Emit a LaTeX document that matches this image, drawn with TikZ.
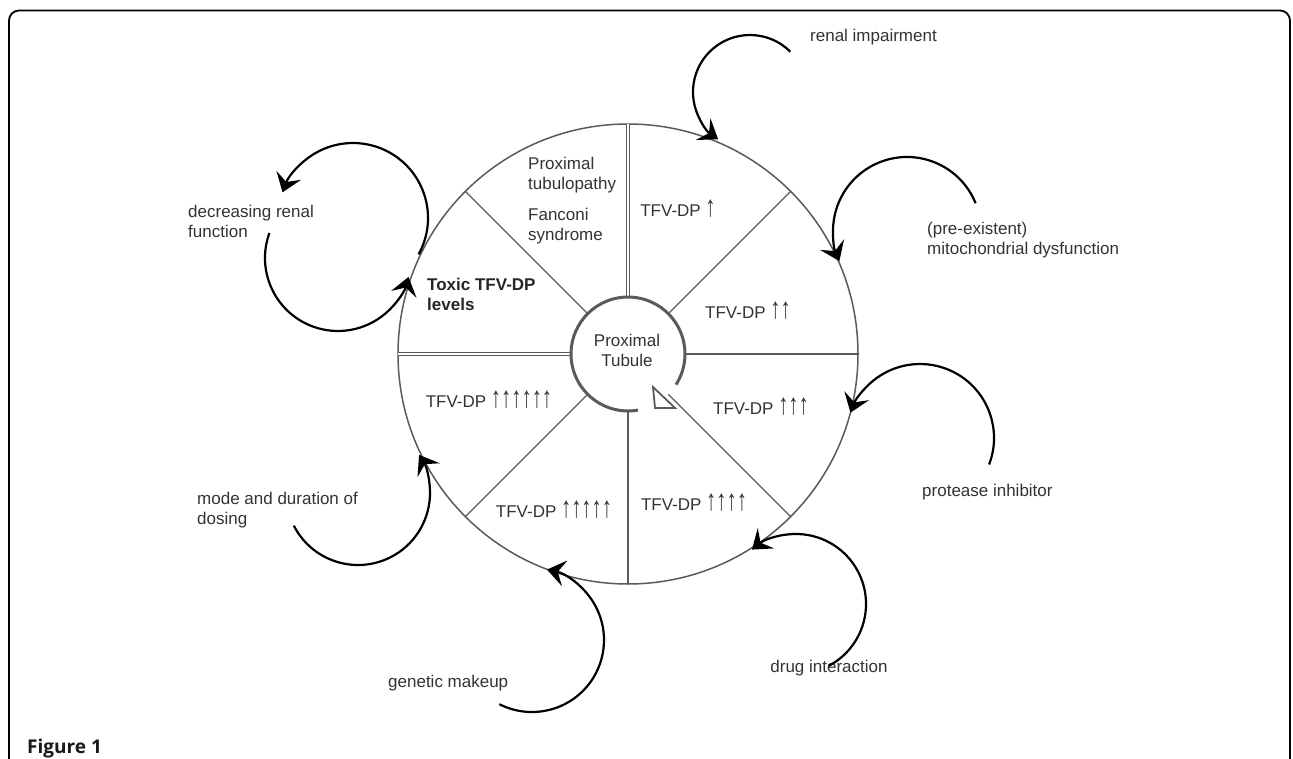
\documentclass[tikz,border=0pt]{standalone}
\usepackage{fontspec}
\usepackage{graphicx}
\setmainfont{Liberation Sans}
\newfontfamily\figfont{Open Sans}
\usetikzlibrary{arrows.meta}
\definecolor{txt}{HTML}{333333}
\definecolor{ln}{HTML}{5A5A5A}
\newcommand\uparr{\raisebox{-0.05ex}{\scalebox{1.2}[1.75]{↑}}}
\begin{document}
\begin{tikzpicture}[x=1pt,y=1pt,
  lbl/.style={inner sep=0, text=txt, font=\fontsize{17}{20}\selectfont, align=left},
  spoke/.style={draw=ln, line width=1.3},
  dspoke/.style={draw=ln, line width=1.1, double=white, double distance=2.4},
  curarr/.style={draw=black, line width=2.2, -{Stealth[length=18, width=26, inset=7]}},
]
\useasboundingbox (0,0) rectangle (1293,-759);
\fill[white] (0,0) rectangle (1293,-759);
\draw[line width=1.8, rounded corners=10] (9,-759) -- (9,-10.5) -- (1290,-10.5) -- (1290,-759);
\node[anchor=base west, inner sep=0, font=\figfont\bfseries\fontsize{19}{22}\selectfont, text=black!90] (fig) at (27,-753) {Figure 1};

% wheel
\coordinate (c) at (628,-354);
\node[circle, draw=ln, line width=1.5, minimum size=460, inner sep=0, outer sep=0] (outer) at (c) {};
\node[circle, minimum size=114, inner sep=0, outer sep=0] (inner) at (c) {};
\foreach \a in {0,45,135,225,270,315} \draw[spoke] (inner.\a) -- (outer.\a);
\draw[dspoke] (inner.90) -- (outer.90);
\draw[dspoke] (inner.180) -- (outer.180);
\draw[ln, line width=3] (inner.-80) arc[start angle=-80, end angle=-392.5, radius=57];
\draw[ln, line width=1.8, fill=white, line join=miter] (653,-387) -- (655,-408) -- (675,-408) -- cycle;
\node[lbl, align=center] (pt) at (627,-350) {Proximal\\Tubule};

% sector labels
\node[lbl, anchor=west] (tubul) at (528,-175) {Proximal\\tubulopathy};
\node[lbl, anchor=west] (fanc) at (528,-226) {Fanconi\\syndrome};
\node[lbl, anchor=west, font=\fontsize{17}{20}\selectfont\bfseries, text=black!85] (toxic) at (427,-294) {Toxic TFV-DP\\levels};
\node[lbl] (t1) at (678,-209) {TFV-DP \uparr};
\node[lbl] (t2) at (748,-311) {TFV-DP \uparr\uparr};
\node[lbl] (t3) at (761,-407) {TFV-DP \uparr\uparr\uparr};
\node[lbl] (t4) at (694,-503) {TFV-DP \uparr\uparr\uparr\uparr};
\node[lbl] (t5) at (554,-510) {TFV-DP \uparr\uparr\uparr\uparr\uparr};
\node[lbl] (t6) at (489,-400) {TFV-DP \uparr\uparr\uparr\uparr\uparr\uparr};

% outside labels
\node[lbl, anchor=west] (renal) at (810,-37) {renal impairment};
\node[lbl, anchor=west] (mito) at (927,-240) {(pre-existent)\\mitochondrial dysfunction};
\node[lbl, anchor=west] (prot) at (922,-492) {protease inhibitor};
\node[lbl] (drug) at (829,-668) {drug interaction};
\node[lbl, anchor=west] (gene) at (388,-683) {genetic makeup};
\node[lbl, anchor=west] (mode) at (197,-510) {mode and duration of\\dosing};
\node[lbl, anchor=west] (decr) at (188,-221) {decreasing renal\\function};

% curved arrows
\coordinate (sA) at ([shift={(45:57)}]750,-92);
\draw[curarr] (sA) arc[start angle=45, end angle=236, radius=57];
\coordinate (sB) at ([shift={(22:74)}]907,-231);
\draw[curarr] (sB) arc[start angle=22, end angle=204, radius=74];
\coordinate (sC) at ([shift={(-21:74)}]920,-438);
\draw[curarr] (sC) arc[start angle=-21, end angle=160, radius=74];
\coordinate (sD) at ([shift={(-62:70)}]796,-604);
\draw[curarr] (sD) arc[start angle=-62, end angle=129, radius=70];
\coordinate (sE) at ([shift={(-117:72)}]532,-640);
\draw[curarr] (sE) arc[start angle=-117, end angle=78, radius=72];
\coordinate (sF) at ([shift={(-153:72)}]358,-493);
\draw[curarr] (sF) arc[start angle=-153, end angle=32, radius=72];
\coordinate (sG) at ([shift={(160:73)}]338,-258);
\draw[curarr] (sG) arc[start angle=160, end angle=345, radius=73];
\coordinate (sH) at ([shift={(-29:75)}]353,-218);
\draw[curarr] (sH) arc[start angle=-29, end angle=160, radius=75];
\end{tikzpicture}
\end{document}
